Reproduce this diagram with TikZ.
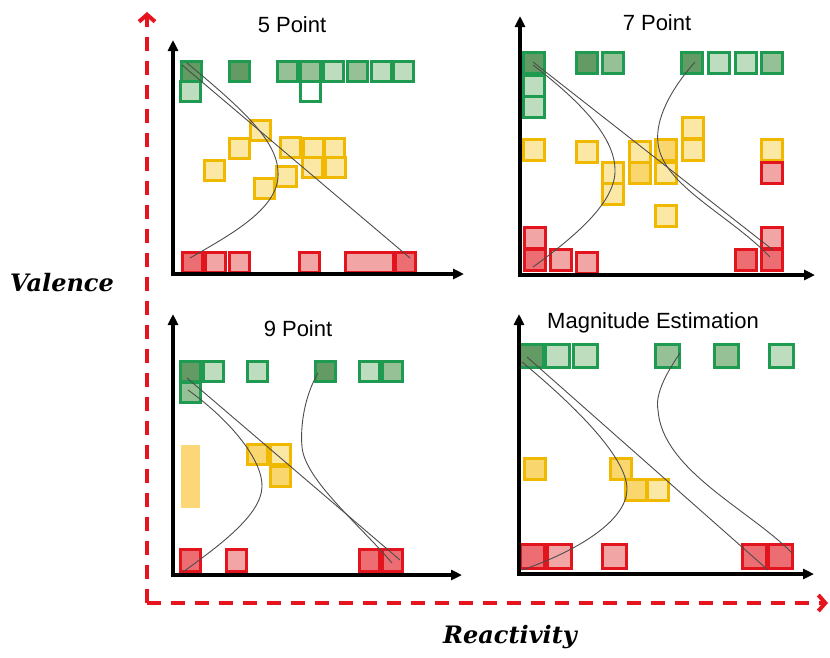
\documentclass[tikz,border=0pt]{standalone}
\usepackage{fontspec}
\setmainfont{Liberation Sans}
\newfontfamily\axisfont{DejaVu Serif}
\usetikzlibrary{arrows.meta}

\definecolor{gline}{RGB}{30,155,80}
\definecolor{gdark}{RGB}{100,155,100}
\definecolor{gmid}{RGB}{150,192,150}
\definecolor{glight}{RGB}{190,220,190}
\definecolor{yline}{RGB}{240,185,0}
\definecolor{ylight}{RGB}{252,232,165}
\definecolor{ymid}{RGB}{250,215,110}
\definecolor{ypale}{RGB}{252,215,120}
\definecolor{rline}{RGB}{226,20,30}
\definecolor{rlight}{RGB}{242,165,165}
\definecolor{rdark}{RGB}{236,110,115}
\definecolor{dred}{RGB}{230,20,30}

\begin{document}
\begin{tikzpicture}[x=1pt,y=-1pt,
    gbox/.style={draw=gline,line width=3pt},
    ybox/.style={draw=yline,line width=3pt},
    rbox/.style={draw=rline,line width=3pt},
    trend/.style={draw=black!70,line width=0.9pt},
    plotaxis/.style={line width=3.2pt,-{Triangle[length=11pt,width=10pt]}},
    rdash/.style={draw=dred,line width=4pt,dash pattern=on 14pt off 10pt,-{Straight Barb[length=7pt,width=16pt]}},
    paneltitle/.style={font=\fontsize{22}{26}\selectfont},
    dimlabel/.style={font=\axisfont\bfseries\itshape\fontsize{24}{28}\selectfont}]
    \useasboundingbox (0,0) rectangle (830,657);

    % 5 Point
    \foreach \x/\y/\f in {191/71/gdark, 239/71/gdark, 287/71/gmid, 310/71/gmid, 333/71/glight,
        357/71/gmid, 381/71/glight, 403/71/glight, 190/91/glight, 310/91/white}
        \draw[gbox,fill=\f] (\x,\y) +(-10,-10) rectangle ++(10,10);
    \foreach \x/\y in {260/130, 239/148, 290/147, 313/148, 334/148, 214/170, 312/167, 335/167, 286/176, 264/188}
        \draw[ybox,fill=ylight] (\x,\y) +(-10,-10) rectangle ++(10,10);
    \foreach \x/\f in {192/rdark, 215/rlight, 239/rlight, 309/rlight, 405/rdark}
        \draw[rbox,fill=\f] (\x,262) +(-10,-10) rectangle ++(10,10);
    \draw[rbox,fill=rlight] (345,252) rectangle (393,272);
    \draw[trend] (182,65) -- (410,258);
    \draw[trend] (187,63) .. controls (250,115) and (280,145) .. (278,177)
        .. controls (276,210) and (230,235) .. (190,258);
    \draw[plotaxis] (173,274) -- (173,40);
    \draw[plotaxis] (171.4,274) -- (464,274);
    \node[paneltitle] (t5) at (292,25) {5 Point};

    % 7 Point
    \foreach \x/\y/\f in {534/63/gdark, 534/86/glight, 534/107/glight, 587/63/gdark, 613/63/gmid,
        692/63/gdark, 719/63/glight, 746/63/glight, 772/63/gmid}
        \draw[gbox,fill=\f] (\x,\y) +(-10.5,-10.5) rectangle ++(10.5,10.5);
    \foreach \x/\y/\f in {534/150/ylight, 587/152/ylight, 613/173/ylight, 613/194/ylight, 640/152/ylight,
        640/173/ymid, 666/150/ymid, 666/173/ylight, 693/128/ylight, 693/150/ylight, 666/216/ylight, 772/150/ylight}
        \draw[ybox,fill=\f] (\x,\y) +(-10.5,-10.5) rectangle ++(10.5,10.5);
    \foreach \x/\y/\f in {772/173/rlight, 535/238/rlight, 535/260/rdark, 561/260/rlight, 587/263/rlight,
        746/260/rdark, 772/238/rlight, 772/260/rdark}
        \draw[rbox,fill=\f] (\x,\y) +(-10.5,-10.5) rectangle ++(10.5,10.5);
    \draw[trend] (533,62) -- (773,250);
    \draw[trend] (533,65) .. controls (585,105) and (616,140) .. (615,172)
        .. controls (614,205) and (570,240) .. (533,267);
    \draw[trend] (695,62) .. controls (670,90) and (655,120) .. (658,143)
        .. controls (662,185) and (730,215) .. (770,257);
    \draw[plotaxis] (520,275) -- (520,16);
    \draw[plotaxis] (518.4,275) -- (815,275);
    \node[paneltitle] (t7) at (657,23) {7 Point};

    % 9 Point
    \foreach \x/\y/\f in {190/371/gdark, 213/371/glight, 257/371/glight, 325/371/gdark, 369/371/glight,
        392/371/gmid, 190/392/gmid}
        \draw[gbox,fill=\f] (\x,\y) +(-10,-10) rectangle ++(10,10);
    \fill[fill=ypale] (181,445) rectangle (200,508);
    \foreach \x/\y/\f in {257/454/ymid, 280/454/ylight, 280/476/ymid}
        \draw[ybox,fill=\f] (\x,\y) +(-10,-10) rectangle ++(10,10);
    \foreach \x/\f in {190/rdark, 236/rlight, 369/rdark, 392/rdark}
        \draw[rbox,fill=\f] (\x,560) +(-10,-11) rectangle ++(10,11);
    \draw[trend] (187,378) -- (400,560);
    \draw[trend] (188,390) .. controls (230,420) and (263,460) .. (262,487)
        .. controls (261,515) and (220,545) .. (183,572);
    \draw[trend] (318,373) .. controls (305,395) and (300,425) .. (302,447)
        .. controls (305,480) and (360,525) .. (392,563);
    \draw[plotaxis] (173,575) -- (173,314);
    \draw[plotaxis] (171.4,575) -- (462,575);
    \node[paneltitle] (t9) at (298,329) {9 Point};

    % Magnitude Estimation
    \foreach \x/\f in {531/gdark, 557/glight, 585/glight, 667/gmid, 726/gmid, 781/glight}
        \draw[gbox,fill=\f] (\x,356) +(-12,-11.5) rectangle ++(12,11.5);
    \foreach \x/\y/\f in {535/469/ymid, 621/469/ymid, 636/490/ymid, 658/490/ylight}
        \draw[ybox,fill=\f] (\x,\y) +(-10.5,-10.5) rectangle ++(10.5,10.5);
    \foreach \x/\f in {532/rdark, 559/rlight, 614/rlight, 754/rdark, 780/rdark}
        \draw[rbox,fill=\f] (\x,556) +(-12,-12) rectangle ++(12,12);
    \draw[trend] (527,357) -- (768,570);
    \draw[trend] (522,362) .. controls (580,410) and (628,460) .. (627,490)
        .. controls (626,520) and (580,550) .. (522,570);
    \draw[trend] (680,353) .. controls (665,375) and (655,395) .. (658,410)
        .. controls (662,470) and (750,510) .. (792,553);
    \draw[plotaxis] (519,574) -- (519,314);
    \draw[plotaxis] (517.4,574) -- (814,574);
    \node[paneltitle] (tm) at (653,323) {Magnitude Estimation};

    \coordinate (origin) at (147,603);
    \draw[rdash] (origin) -- (147,12);
    \draw[rdash] (origin) -- (828,603);
    \node[dimlabel] (valence) at (62,283) {Valence};
    \node[dimlabel] (reactivity) at (510,637) {Reactivity};
\end{tikzpicture}
\end{document}
